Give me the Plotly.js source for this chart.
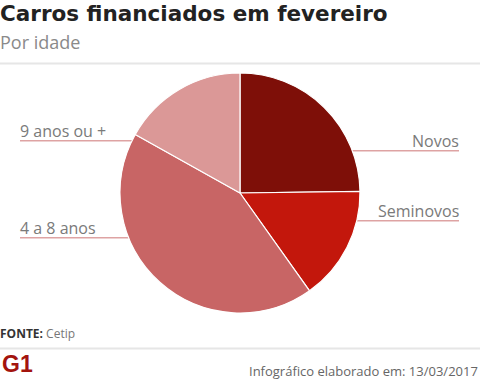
<!DOCTYPE html>
<html>
<head>
<meta charset="utf-8">
<script src="https://cdn.plot.ly/plotly-3.0.1.min.js"></script>
<style>html,body{margin:0;padding:0;background:#fff;}#chart{width:480px;height:380px;}</style>
</head>
<body>
<div id="chart"></div>
<script>
var categories = ["Novos", "Seminovos", "4 a 8 anos", "9 anos ou +"];
var values = [24.8, 15.4, 43.0, 16.9];
var colors = ["#7e0f08", "#c3170c", "#c86565", "#db9897"];

var W = 480, H = 380;
function px(x){ return x / W; }
function py(y){ return 1 - y / H; }

var trace = {
  type: "pie",
  labels: categories,
  values: values,
  sort: false,
  direction: "clockwise",
  rotation: 0,
  textinfo: "none",
  hoverinfo: "label+value",
  marker: { colors: colors, line: { color: "#ffffff", width: 1.2 } },
  domain: { x: [px(120), px(360)], y: [py(313), py(73)] },
  showlegend: false
};

var lineColor = "#dea3a3";
function hline(x0, x1, y){
  return { type: "line", xref: "paper", yref: "paper", layer: "below",
    x0: px(x0), x1: px(x1), y0: py(y), y1: py(y),
    line: { color: lineColor, width: 1.5 } };
}

var labelFont = { family: "Open Sans", size: 16, color: "#7a7a7a" };

var layout = {
  width: W, height: H,
  margin: { l: 0, r: 0, t: 0, b: 0 },
  paper_bgcolor: "#ffffff",
  plot_bgcolor: "#ffffff",
  shapes: [
    { type: "line", xref: "paper", yref: "paper", x0: 0, x1: 1, y0: py(63.5), y1: py(63.5), line: { color: "#e6e6e6", width: 2 } },
    { type: "line", xref: "paper", yref: "paper", x0: 0, x1: 1, y0: py(348.5), y1: py(348.5), line: { color: "#e6e6e6", width: 2 } },
    hline(20, 140, 140.7),
    hline(20, 140, 237.7),
    hline(340, 459, 150.7),
    hline(340, 459, 220.7)
  ],
  annotations: [
    { text: "<b>Carros financiados em fevereiro</b>", xref: "paper", yref: "paper", x: 0, y: py(-1), xanchor: "left", yanchor: "top", showarrow: false,
      font: { family: "DejaVu Sans", size: 21.5, color: "#222222" }, xshift: -2 },
    { text: "Por idade", xref: "paper", yref: "paper", x: 0, y: py(28), xanchor: "left", yanchor: "top", showarrow: false,
      font: { family: "Open Sans", size: 18, color: "#8a8a8a" }, xshift: -2 },
    { text: categories[3], xref: "paper", yref: "paper", x: px(20), y: py(144), xanchor: "left", yanchor: "bottom", showarrow: false, font: labelFont, xshift: -2 },
    { text: categories[2], xref: "paper", yref: "paper", x: px(20), y: py(241), xanchor: "left", yanchor: "bottom", showarrow: false, font: labelFont, xshift: -2 },
    { text: categories[0], xref: "paper", yref: "paper", x: px(459), y: py(154), xanchor: "right", yanchor: "bottom", showarrow: false, font: labelFont, xshift: 2 },
    { text: categories[1], xref: "paper", yref: "paper", x: px(459), y: py(224), xanchor: "right", yanchor: "bottom", showarrow: false, font: labelFont, xshift: 2 },
    { text: "<b>FONTE:</b> <span style='color:#777'>Cetip</span>", xref: "paper", yref: "paper", x: 0, y: py(333), xanchor: "left", yanchor: "middle", showarrow: false,
      font: { family: "Open Sans", size: 12, color: "#333333" }, xshift: -2 },
    { text: "<b>G1</b>", xref: "paper", yref: "paper", x: 0, y: py(364), xanchor: "left", yanchor: "middle", showarrow: false,
      font: { family: "Liberation Sans", size: 23, color: "#a3140e" }, xshift: 0 },
    { text: "Infográfico elaborado em: 13/03/2017", xref: "paper", yref: "paper", x: 1, y: py(371), xanchor: "right", yanchor: "middle", showarrow: false,
      font: { family: "Open Sans", size: 13, color: "#666666" }, xshift: 0 }
  ]
};

Plotly.newPlot("chart", [trace], layout, { displayModeBar: false, staticPlot: true });
</script>
</body>
</html>
